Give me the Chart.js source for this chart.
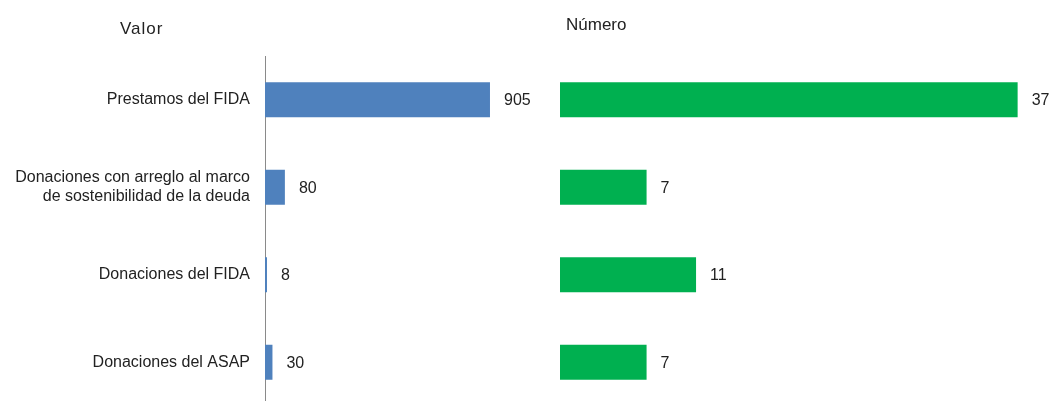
<!DOCTYPE html>
<html>
<head>
<meta charset="utf-8">
<script src="https://cdn.jsdelivr.net/npm/chart.js@4"></script>
<style>
  html, body { margin: 0; padding: 0; background: #fff; overflow: hidden; }
  body { width: 1054px; height: 401px; position: relative; font-family: "Liberation Sans", Arial, sans-serif; }
  .box { position: absolute; top: 0; height: 410px; }
  #leftBox { left: 0; width: 540px; }
  #rightBox { left: 540px; width: 514px; }
  .title { position: absolute; font-size: 17px; color: #222; white-space: nowrap; }
  #t1 { left: 120px; top: 19px; letter-spacing: 1px; }
  #t2 { left: 566px; top: 15px; }
</style>
</head>
<body>
<div class="box" id="leftBox"><canvas id="c1"></canvas></div>
<div class="box" id="rightBox"><canvas id="c2"></canvas></div>
<div class="title" id="t1">Valor</div>
<div class="title" id="t2">Número</div>
<script>
const categories = [
  "Prestamos del FIDA",
  ["Donaciones con arreglo al marco", "de sostenibilidad de la deuda"],
  "Donaciones del FIDA",
  "Donaciones del ASAP"
];
const valorValues = [905, 80, 8, 30];
const numeroValues = [37, 7, 11, 7];

Chart.defaults.font.family = '"Liberation Sans", Arial, sans-serif';
Chart.defaults.font.size = 16;
Chart.defaults.color = '#222';

const valueLabels = {
  id: 'valueLabels',
  afterDatasetsDraw(chart) {
    const ctx = chart.ctx;
    ctx.save();
    ctx.font = '16px "Liberation Sans", Arial, sans-serif';
    ctx.fillStyle = '#222';
    ctx.textBaseline = 'middle';
    ctx.textAlign = 'left';
    chart.data.datasets.forEach((ds, i) => {
      chart.getDatasetMeta(i).data.forEach((bar, j) => {
        ctx.fillText(String(ds.data[j]), bar.x + 14, bar.y + 1);
      });
    });
    ctx.restore();
  }
};

function makeChart(id, values, color, showY, xMax, padding) {
  return new Chart(document.getElementById(id), {
    type: 'bar',
    data: {
      labels: categories,
      datasets: [{
        data: values,
        backgroundColor: color,
        borderWidth: 0,
        categoryPercentage: 1.0,
        barPercentage: 0.4
      }]
    },
    options: {
      indexAxis: 'y',
      responsive: true,
      maintainAspectRatio: false,
      animation: false,
      layout: { padding: padding },
      plugins: { legend: { display: false }, tooltip: { enabled: false }, title: { display: false } },
      scales: {
        x: { display: false, min: 0, max: xMax },
        y: {
          display: showY,
          grid: { display: false },
          border: { display: true, color: '#8a8a8a', width: 1 },
          ticks: { padding: 7, color: '#222', font: { size: 16 } },
          afterFit(scale) {
            scale.paddingTop = 0;
            scale.paddingBottom = 0;
            if (showY) scale.width = 265;
          }
        }
      }
    },
    plugins: [valueLabels]
  });
}

makeChart('c1', valorValues, '#4F81BD', true, 1066, { top: 56, bottom: 4, left: 0, right: 10 });
makeChart('c2', numeroValues, '#00B050', false, 38, { top: 56, bottom: 4, left: 20, right: 24 });
</script>
</body>
</html>
